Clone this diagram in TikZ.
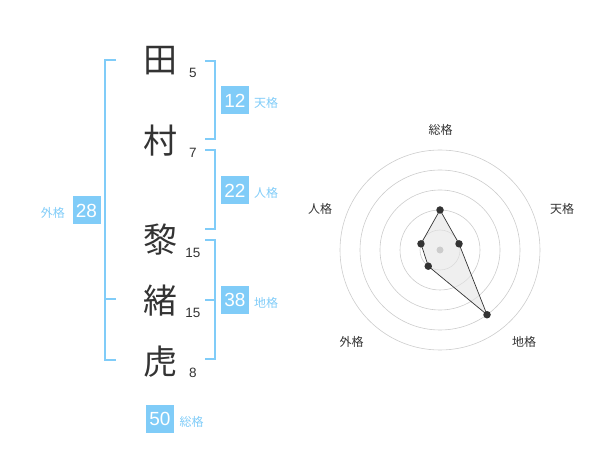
\documentclass[tikz,border=0pt]{standalone}
\usepackage{fontspec}
\setmainfont{Liberation Sans}
\newfontfamily\cjk{Noto Sans CJK JP}
\definecolor{kblue}{HTML}{80CCF8}
\definecolor{kdark}{HTML}{333333}
\definecolor{kgrid}{HTML}{CCCCCC}
\begin{document}
\begin{tikzpicture}[x=1pt,y=-1pt,
  kanji/.style={font=\cjk\fontsize{34}{34}\selectfont, text=kdark, inner sep=0pt},
  strokes/.style={font=\fontsize{13.5}{14}\selectfont, text=kdark, inner sep=0pt},
  valbox/.style={fill=kblue, text=white, minimum width=28pt, minimum height=28pt, inner sep=0pt, font=\fontsize{19}{19}\selectfont},
  kaku/.style={font=\cjk\fontsize{12}{12}\selectfont, text=kblue, inner sep=0pt},
  axislabel/.style={font=\cjk\fontsize{12}{12}\selectfont, text=kdark, inner sep=0pt},
  brk/.style={draw=kblue, line width=2pt},
  ring/.style={draw=kgrid, line width=0.6pt},
  dot/.style={circle, fill=kdark, inner sep=0pt, minimum size=7.5pt},
  cdot/.style={circle, fill=kgrid, inner sep=0pt, minimum size=7pt}]
\useasboundingbox (0,0) rectangle (600,470);

% name characters
\node[kanji] (c1) at (160,61) {田};
\node[kanji] (c2) at (160,141) {村};
\node[kanji] (c3) at (160,240) {黎};
\node[kanji] (c4) at (160,301) {緒};
\node[kanji] (c5) at (160,362) {虎};

% stroke counts
\node[strokes] (s1) at (193,72.7) {5};
\node[strokes] (s2) at (193,152.7) {7};
\node[strokes] (s3) at (193,252.7) {15};
\node[strokes] (s4) at (193,312.7) {15};
\node[strokes] (s5) at (193,373.3) {8};

% brackets
\draw[brk] (205,60.7) -- (215,60.7) -- (215,139.3) -- (205,139.3);
\draw[brk] (205,150) -- (215,150) -- (215,229.3) -- (205,229.3);
\draw[brk] (205,240) -- (215,240) -- (215,359.3) -- (205,359.3);
\draw[brk] (205,300) -- (215,300);
\draw[brk] (116,60) -- (105,60) -- (105,359.8) -- (116,359.8);
\draw[brk] (105,299.5) -- (116,299.5);

% values
\node[valbox] (v1) at (235,100.5) {12};
\node[kaku, anchor=west] (k1) at (254,103) {天格};
\node[valbox] (v2) at (235,190.5) {22};
\node[kaku, anchor=west] (k2) at (254,193) {人格};
\node[valbox] (v3) at (235,300.2) {38};
\node[kaku, anchor=west] (k3) at (254,303) {地格};
\node[valbox] (v4) at (86.5,210.5) {28};
\node[kaku, anchor=east] (k4) at (65,213) {外格};
\node[valbox] (v5) at (160,419) {50};
\node[kaku, anchor=west] (k5) at (179.5,422) {総格};

% radar chart
\begin{scope}[shift={(440,250)}, yscale=-1]
  \foreach \r in {20,40,60,80,100} \draw[ring] (0,0) circle[radius=\r pt];
  \coordinate (pS) at (90:40);
  \coordinate (pT) at (18:20);
  \coordinate (pC) at (-54:80);
  \coordinate (pG) at (-126:20);
  \coordinate (pJ) at (162:20);
  \fill[black!10, fill opacity=0.6] (pS) -- (pT) -- (pC) -- (pG) -- (pJ) -- cycle;
  \node[cdot] (ctr) at (0,0) {};
  \draw[kdark, line width=0.7pt] (pS) -- (pT) -- (pC) -- (pG) -- (pJ) -- cycle;
  \foreach \p in {pS,pT,pC,pG,pJ} \node[dot] at (\p) {};
\end{scope}
\node[axislabel] (a1) at (440.7,130) {総格};
\node[axislabel] (a2) at (562,208.5) {天格};
\node[axislabel] (a3) at (320,208.5) {人格};
\node[axislabel] (a4) at (351.7,341.7) {外格};
\node[axislabel] (a5) at (524,341.7) {地格};
\end{tikzpicture}
\end{document}
